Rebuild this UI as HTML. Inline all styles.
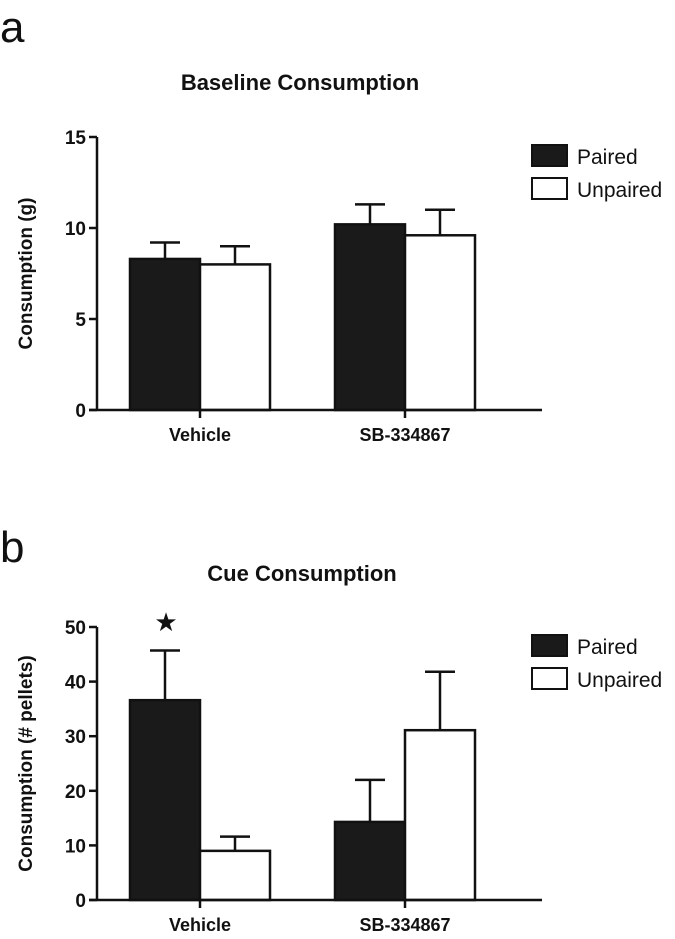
<!DOCTYPE html>
<html><head><meta charset="utf-8"><style>
body{margin:0;background:#fff;width:675px;height:934px;overflow:hidden}
svg text{font-family:"Liberation Sans",Arial,sans-serif;fill:#111}
</style></head><body>
<svg id="chart" width="675" height="934" xmlns="http://www.w3.org/2000/svg">
<text x="0" y="42" font-size="44">a</text>
<text x="300" y="90" font-size="22" font-weight="bold" text-anchor="middle">Baseline Consumption</text>
<text x="0" y="562" font-size="44">b</text>
<text x="302" y="581" font-size="22" font-weight="bold" text-anchor="middle">Cue Consumption</text>
</svg>
<script>
const groups = ["Vehicle", "SB-334867"];
const seriesNames = ["Paired", "Unpaired"];
const aPaired = [8.3, 10.2];
const aUnpaired = [8.0, 9.6];
const aPairedErr = [0.9, 1.1];
const aUnpairedErr = [1.0, 1.4];
const aTicks = [0, 5, 10, 15];
const bPaired = [36.6, 14.3];
const bUnpaired = [9.0, 31.1];
const bPairedErr = [9.1, 7.7];
const bUnpairedErr = [2.6, 10.7];
const bTicks = [0, 10, 20, 30, 40, 50];

const svg = document.getElementById('chart');
const NS = 'http://www.w3.org/2000/svg';
function mk(tag, attrs, parent) {
  const e = document.createElementNS(NS, tag);
  for (const k in attrs) e.setAttribute(k, attrs[k]);
  (parent || svg).appendChild(e);
  return e;
}
function panel(id, y0, yTop, maxV, ticks, paired, unpaired, pErr, uErr, yTitle, legendY, star) {
  const g = mk('g', {});
  
  
  const yS = v => y0 - (v / maxV) * (y0 - yTop);
  const axX = 97;
  const groupStart = [130, 335];
  const bw = 70;
  const series = [paired, unpaired];
  const errs = [pErr, uErr];
  groups.forEach((gname, gi) => {
    series.forEach((s, si) => {
      const x = groupStart[gi] + si * bw;
      const v = s[gi];
      const top = yS(v);
      const e = errs[si][gi];
      const cx = x + bw / 2;
      const eb = mk('line', {x1: cx, x2: cx, y1: top, y2: yS(v + e), stroke: '#111', 'stroke-width': 2.5}, g);
      
      
      const cap = mk('line', {x1: cx - 15, x2: cx + 15, y1: yS(v + e), y2: yS(v + e), stroke: '#111', 'stroke-width': 2.5}, g);
      
      
      const r = mk('rect', {x: x, y: top, width: bw, height: y0 - top, fill: si === 0 ? '#1a1a1a' : '#fff', stroke: '#111', 'stroke-width': 2.5}, g);
      
      
    });
    const tx = groupStart[gi] + bw;
    const tk = mk('line', {x1: tx, x2: tx, y1: y0, y2: y0 + 8, stroke: '#111', 'stroke-width': 2.5}, g);
    
    
    const lt = mk('text', {x: tx, y: y0 + 31, 'font-size': 18, 'font-weight': 'bold', 'text-anchor': 'middle'}, g);
    lt.textContent = gname;
    
    
  });
  const ya = mk('line', {x1: axX, x2: axX, y1: yTop, y2: y0, stroke: '#111', 'stroke-width': 2.5}, g);
  
  
  const xa = mk('line', {x1: axX - 8, x2: 542, y1: y0, y2: y0, stroke: '#111', 'stroke-width': 2.5}, g);
  
  
  ticks.forEach(t => {
    const y = yS(t);
    const l = mk('line', {x1: axX - 8, x2: axX, y1: y, y2: y, stroke: '#111', 'stroke-width': 2.5}, g);
    
    
    const tt = mk('text', {x: axX - 11, y: y + 7, 'font-size': 19, 'font-weight': 'bold', 'text-anchor': 'end'}, g);
    tt.textContent = t;
    
    
  });
  const yt = mk('text', {x: 0, y: 0, 'font-size': 19, 'font-weight': 'bold', 'text-anchor': 'middle', transform: 'translate(32,' + ((y0 + yTop) / 2) + ') rotate(-90)'}, g);
  yt.textContent = yTitle;
  
  
  seriesNames.forEach((n, i) => {
    const ly = legendY + i * 33;
    const b = mk('rect', {x: 532, y: ly, width: 35, height: 21, fill: i === 0 ? '#1a1a1a' : '#fff', stroke: '#111', 'stroke-width': 2}, g);
    
    
    const t = mk('text', {x: 577, y: ly + 19, 'font-size': 21}, g);
    t.textContent = n;
    
    
  });
  if (star) {
    const s = mk('text', {x: 166, y: yS(50) + 4, 'font-size': 26, 'text-anchor': 'middle'}, g);
    s.textContent = '★';
    
    
  }
}
panel('a', 410, 137, 15, aTicks, aPaired, aUnpaired, aPairedErr, aUnpairedErr, 'Consumption  (g)', 145, false);
panel('b', 900, 627, 50, bTicks, bPaired, bUnpaired, bPairedErr, bUnpairedErr, 'Consumption (# pellets)', 635, true);
</script>
</body></html>
